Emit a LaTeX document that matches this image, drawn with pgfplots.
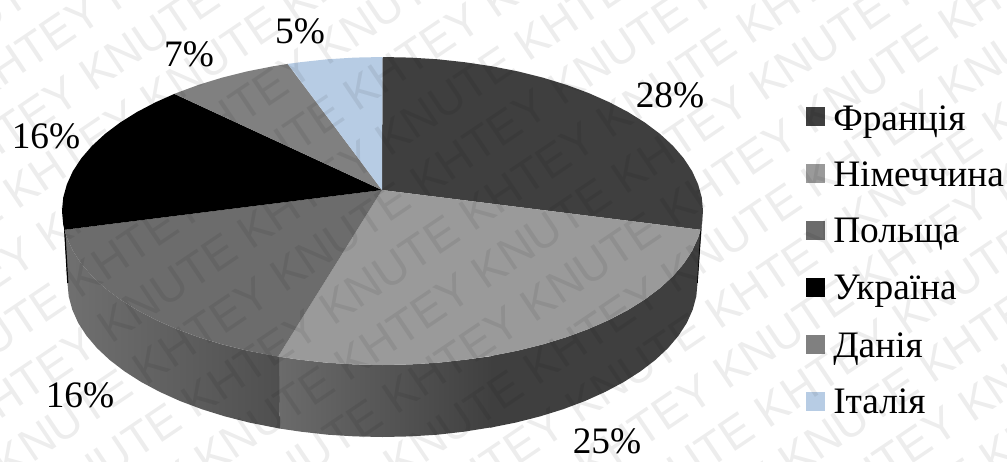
\documentclass[border=0pt]{standalone}
\usepackage{pgfplots}
\pgfplotsset{compat=1.18}
\usepackage{fontspec}
\setmainfont{Liberation Serif}
\newfontfamily\markfont{Liberation Sans}
\definecolor{cFrance}{HTML}{3F3F3F}
\definecolor{cGermany}{HTML}{9A9A9A}
\definecolor{cPoland}{HTML}{6C6C6C}
\definecolor{cDenmark}{HTML}{808080}
\definecolor{cItaly}{HTML}{B7CCE4}
\newcommand{\lab}{\fontsize{28}{30}\selectfont}
\begin{document}
\begin{tikzpicture}
\useasboundingbox (0,0) rectangle (755.25pt,345.75pt);
\clip (0,0) rectangle (755.25pt,345.75pt);
\begin{axis}[
  at={(0,0)}, anchor=south west,
  x=0.75pt, y=0.75pt, y dir=reverse,
  xmin=0, xmax=1007, ymin=0, ymax=461,
  axis lines=none, clip=false,
]
% side wall, shaded left part of Germany
\addplot[left color=black!58, right color=cFrance, draw=none] coordinates {
 (495,355.7)(465.4,359.7)(438.1,362.7)(410.4,364.4)(382.5,365)(354.6,364.4)(326.9,362.7)(299.6,359.7)(278.1,356.6)(279.9,428.6)(301,431.7)(327.8,434.7)(355,436.4)(382.5,437)(410,436.4)(437.2,434.7)(464,431.7)(495,426.7)} --cycle;
% side wall, right part of the front
\addplot[fill=cFrance, draw=none] coordinates {
 (703,211)(701.8,224.4)(700.6,229.8)(698.1,237.7)(692.1,250.9)(683.7,263.7)(673,276.1)(660.1,288)(645.1,299.3)(628,310)(609.1,319.9)(588.5,329)(566.3,337.2)(542.8,344.4)(517.9,350.6)(492.1,355.7)(490.2,427.7)(515.6,422.6)(540,416.4)(563.2,409.2)(585,401)(605.2,391.9)(623.8,382)(640.5,371.3)(655.3,360)(668,348.1)(678.5,335.7)(686.8,322.9)(692.7,309.7)(696.3,296.4)(697.5,283)} --cycle;
% side wall of Poland
\addplot[left color=black!56, right color=black!69, draw=none] coordinates {
 (279,356.6)(247.1,350.6)(222.2,344.4)(198.7,337.2)(176.5,329)(155.9,319.9)(137,310)(119.9,299.3)(104.9,288)(92,276.1)(81.3,263.7)(72.9,250.9)(66.9,237.7)(64.4,229.8)(67.5,283)(68.7,296.4)(72.3,309.7)(78.2,322.9)(86.5,335.7)(97,348.1)(109.7,360)(124.5,371.3)(141.2,382)(159.8,391.9)(180,401)(201.8,409.2)(225,416.4)(249.4,422.6)(279.9,428.6)} --cycle;
% dark edges of the wall
\addplot[black, line width=0.9pt] coordinates {(64.6,229)(67.8,283)};
\addplot[black, line width=0.5pt] coordinates {(700.8,229)(697.4,283)};
% top face: France
\addplot[fill=cFrance, draw=none] coordinates {
 (382,190)(382.5,57)(410.4,57.6)(438.1,59.3)(465.4,62.3)(492.1,66.3)(517.9,71.4)(542.8,77.6)(566.3,84.8)(588.5,93)(609.1,102.1)(628,112)(645.1,122.7)(660.1,134)(673,145.9)(683.7,158.3)(692.1,171.1)(698.1,184.3)(701.8,197.6)(703,211)(701.8,224.4)(700.6,229.8)} --cycle;
% top face: Germany
\addplot[fill=cGermany, draw=none] coordinates {
 (382,190)(700.6,229.8)(698.1,237.7)(692.1,250.9)(683.7,263.7)(673,276.1)(660.1,288)(645.1,299.3)(628,310)(609.1,319.9)(588.5,329)(566.3,337.2)(542.8,344.4)(517.9,350.6)(492.1,355.7)(465.4,359.7)(438.1,362.7)(410.4,364.4)(382.5,365)(354.6,364.4)(326.9,362.7)(299.6,359.7)(278.1,356.6)} --cycle;
% top face: Poland
\addplot[fill=cPoland, draw=none] coordinates {
 (382,190)(278.1,356.6)(272.9,355.7)(247.1,350.6)(222.2,344.4)(198.7,337.2)(176.5,329)(155.9,319.9)(137,310)(119.9,299.3)(104.9,288)(92,276.1)(81.3,263.7)(72.9,250.9)(66.9,237.7)(64.4,229.8)} --cycle;
% top face: Ukraine
\addplot[fill=black, draw=none] coordinates {
 (382,190)(64.4,229.8)(63.2,224.4)(62,211)(63.2,197.6)(66.9,184.3)(72.9,171.1)(81.3,158.3)(92,145.9)(104.9,134)(119.9,122.7)(137,112)(155.9,102.1)(174.4,93.9)} --cycle;
% top face: Denmark
\addplot[fill=cDenmark, draw=none] coordinates {
 (382,190)(174.4,93.9)(176.5,93)(198.7,84.8)(222.2,77.6)(247.1,71.4)(272.9,66.3)(287.7,63.9)} --cycle;
% top face: Italy
\addplot[fill=cItaly, draw=none] coordinates {
 (382,190)(287.7,63.9)(299.6,62.3)(326.9,59.3)(354.6,57.6)(382.5,57)} --cycle;
% legend keys
\addplot[fill=cFrance, draw=none] coordinates {(806,107)(825,107)(825,126)(806,126)} --cycle;
\addplot[fill=cGermany, draw=none] coordinates {(806,164)(825,164)(825,183)(806,183)} --cycle;
\addplot[fill=cPoland, draw=none] coordinates {(806,221)(825,221)(825,240)(806,240)} --cycle;
\addplot[fill=black, draw=none] coordinates {(806,278)(825,278)(825,297)(806,297)} --cycle;
\addplot[fill=cDenmark, draw=none] coordinates {(806,335)(825,335)(825,354)(806,354)} --cycle;
\addplot[fill=cItaly, draw=none] coordinates {(806,392)(825,392)(825,411)(806,411)} --cycle;
% share labels
\node[anchor=base, font=\lab] at (axis cs:670,107) {28\%};
\node[anchor=base, font=\lab] at (axis cs:607,453) {25\%};
\node[anchor=base, font=\lab] at (axis cs:80,407) {16\%};
\node[anchor=base, font=\lab] at (axis cs:46,148) {16\%};
\node[anchor=base, font=\lab] at (axis cs:189,66) {7\%};
\node[anchor=base, font=\lab] at (axis cs:300,43) {5\%};
% legend entries
\node[anchor=base west, inner sep=0pt, font=\lab] at (axis cs:833,130) {Франція};
\node[anchor=base west, inner sep=0pt, font=\lab] at (axis cs:833,186) {Німеччина};
\node[anchor=base west, inner sep=0pt, font=\lab] at (axis cs:833,242) {Польща};
\node[anchor=base west, inner sep=0pt, font=\lab] at (axis cs:833,299) {Україна};
\node[anchor=base west, inner sep=0pt, font=\lab] at (axis cs:833,357) {Данія};
\node[anchor=base west, inner sep=0pt, font=\lab] at (axis cs:833,413) {Італія};
\end{axis}
% repeated diagonal overprint: row index / phase along the row
\begin{scope}[x=0.75pt, y=-0.75pt, yshift=345.75pt]
\foreach \k/\ph in {-8/250,-7/104,-6/41,-5/78,-4/250,-3/80,-2/250,-1/87,0/109,1/256,2/278,3/76,4/258,5/65,6/244,7/70,8/250,9/70} {
  \pgfmathsetmacro{\ss}{\ph-670-15.3}
  \pgfmathsetmacro{\pp}{441+54.7*\k+16.5}
  \pgfmathsetmacro{\px}{\ss*0.829+\pp*0.559}
  \pgfmathsetmacro{\py}{-\ss*0.559+\pp*0.829}
  \node[anchor=base west, inner sep=0pt, rotate=34, text=black, text opacity=0.07,
        font=\markfont\fontsize{34.5}{34.5}\selectfont]
     at (\px,\py) {KNUTE KHTEY KNUTE KHTEY KNUTE KHTEY KNUTE KHTEY KNUTE KHTEY};
}
\end{scope}
\end{tikzpicture}
\end{document}
